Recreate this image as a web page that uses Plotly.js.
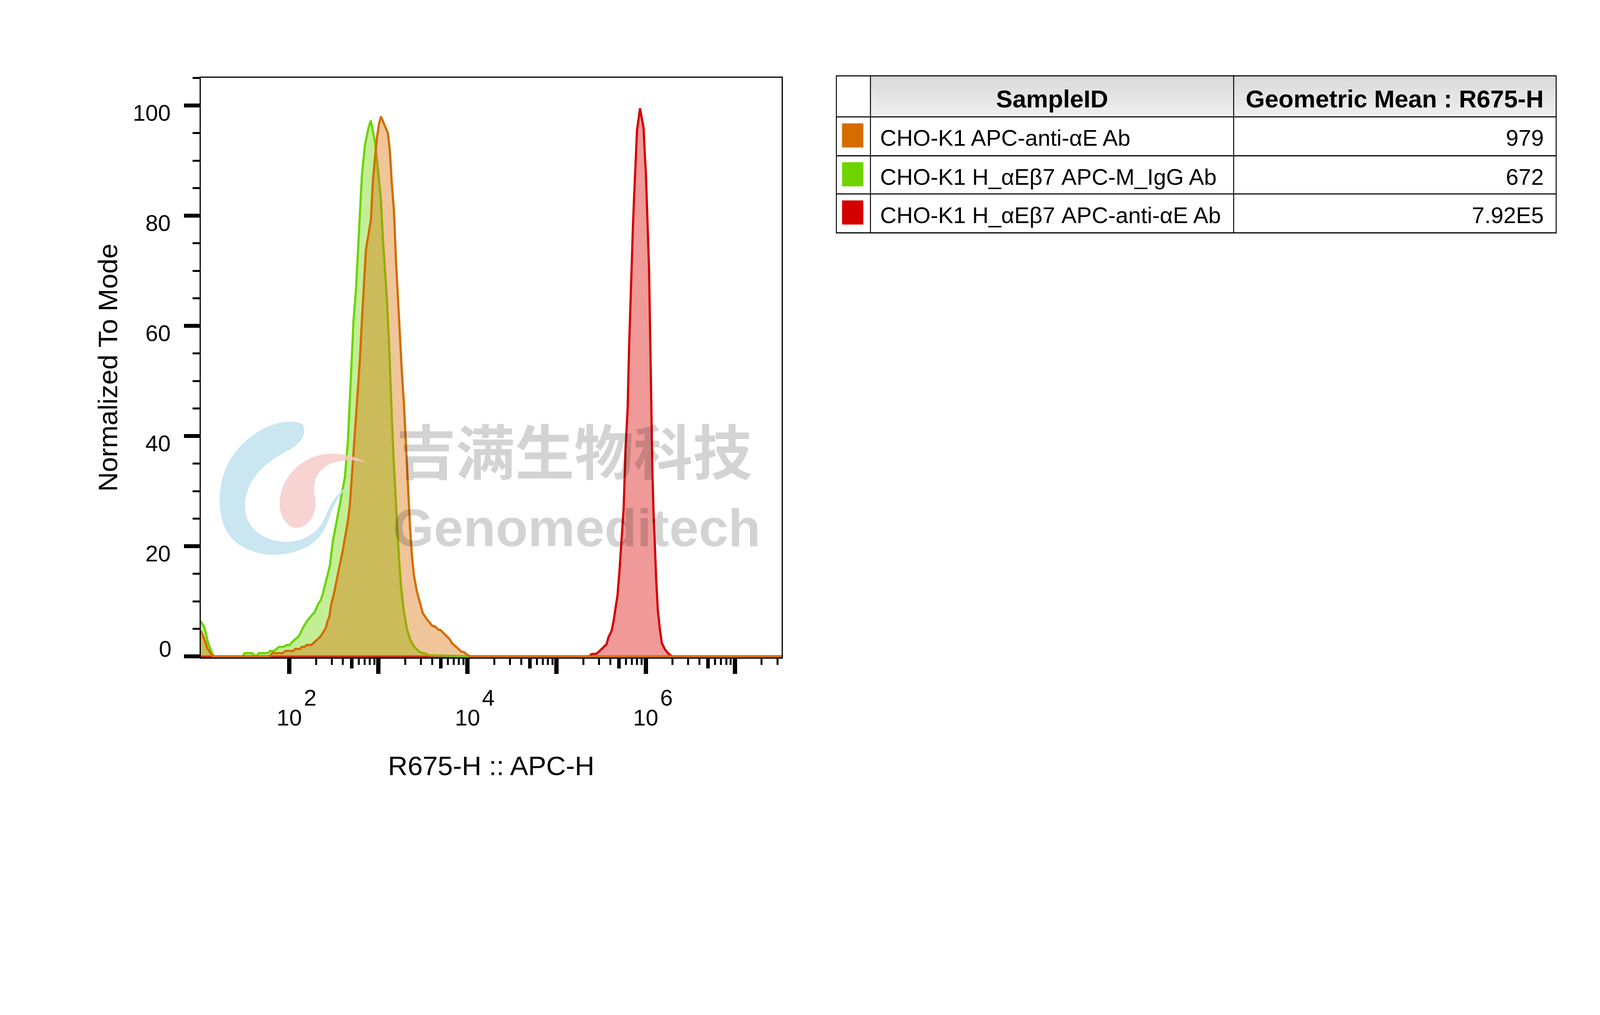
<!DOCTYPE html>
<html>
<head>
<meta charset="utf-8">
<script src="https://cdn.plot.ly/plotly-3.0.1.min.js"></script>
<style>
html,body{margin:0;padding:0;background:#ffffff;overflow:hidden;}
#chart{position:absolute;left:0;top:0;}
</style>
</head>
<body>
<div id="chart"></div>
<script>
// ---------------- DATA (x in log10 of R675-H channel value, y = % of mode) ----------------
const greenLogX = [0.99,1.015,1.048,1.090,1.133,1.155,1.476,1.498,1.584,1.616,1.637,1.659,1.755,1.787,1.830,1.884,1.938,1.970,2.002,2.034,2.109,2.163,2.205,2.249,2.287,2.321,2.355,2.377,2.411,2.433,2.456,2.489,2.523,2.556,2.590,2.624,2.658,2.678,2.700,2.721,2.748,2.766,2.792,2.815,2.849,2.889,2.915,2.938,2.961,2.984,3.006,3.028,3.051,3.073,3.096,3.118,3.141,3.163,3.186,3.208,3.231,3.253,3.287,3.320,3.354,3.399,3.418,3.449,3.482,3.525,3.568,4.000,4.020];
const greenY = [6.5,6.2,5.25,2.4,0.65,0,0,0.6,0.6,0.15,0.15,0.6,0.6,1.0,1.0,1.75,1.75,2.08,2.08,2.63,3.72,5.48,6.57,7.34,8.1,9.4,10.3,11.4,13.6,15.0,16.5,20.9,23.8,26.7,29.3,32.5,39.1,46.5,53.5,61.0,66.5,72.0,79.3,87.3,92.8,96.0,97.3,95.5,93.5,90.2,86.6,82.9,75.6,70.1,64.7,57.4,47.6,38.4,31.1,23.8,17.9,12.9,8.0,5.0,3.2,1.8,1.5,1.0,0.65,0.55,0.2,0.1,0];

const orangeLogX = [0.98,1.015,1.048,1.080,1.112,1.144,1.777,1.809,1.927,1.959,2.045,2.066,2.120,2.141,2.174,2.195,2.249,2.299,2.343,2.356,2.388,2.409,2.431,2.452,2.467,2.501,2.534,2.568,2.602,2.630,2.658,2.680,2.703,2.730,2.759,2.775,2.792,2.815,2.838,2.860,2.894,2.916,2.939,2.961,2.984,3.006,3.028,3.107,3.129,3.152,3.174,3.197,3.219,3.242,3.262,3.287,3.309,3.332,3.354,3.376,3.399,3.433,3.466,3.500,3.546,3.589,3.610,3.632,3.675,3.696,3.803,3.825,3.932,3.964,3.975,4.018,4.050,7.600];
const orangeY = [5.0,4.37,3.06,1.53,0.65,0,0,0.6,0.6,1.0,1.0,1.35,1.35,1.75,1.75,2.08,2.08,2.8,3.5,3.72,4.6,5.15,6.46,7.34,9.2,11.4,14.0,16.5,19.4,22.0,24.6,27.5,33.0,38.4,45.7,50.0,53.7,61.0,68.3,73.8,77.1,79.3,86.6,90.2,94.2,96.6,98.0,95.0,91.7,85.5,81.1,72.0,64.7,57.4,52.0,45.7,38.4,31.1,23.8,18.3,14.7,11.7,9.6,7.8,6.7,5.8,5.48,5.48,4.82,4.82,3.07,2.41,0.88,0.77,0.55,0.1,0,0];

const redLogX = [0.98,5.368,5.390,5.447,5.470,5.526,5.560,5.582,5.616,5.639,5.661,5.684,5.707,5.729,5.752,5.774,5.797,5.813,5.838,5.848,5.857,5.868,5.879,5.888,5.902,5.936,5.976,5.990,6.003,6.014,6.024,6.037,6.052,6.061,6.074,6.086,6.102,6.117,6.135,6.158,6.181,6.215,6.248,6.294,7.600];
const redY = [0,0,0.4,0.5,0.8,1.7,2.2,3.5,4.6,6.4,8.6,11.2,15.9,21.4,26.9,37.8,45.1,56.1,70.4,74.0,78.4,82.8,87.2,91.6,95.5,99.5,95.9,91.1,87.2,81.7,76.2,70.4,56.1,45.1,34.2,26.9,19.6,14.1,8.6,5.0,2.4,1.3,0.6,0,0];

const sampleIds = ['CHO-K1 APC-anti-\u03b1E Ab', 'CHO-K1 H_\u03b1E\u03b27 APC-M_IgG Ab', 'CHO-K1 H_\u03b1E\u03b27 APC-anti-\u03b1E Ab'];
const geoMeans = ['979', '672', '7.92E5'];
const tableHeader = ['SampleID', 'Geometric Mean : R675-H'];

const xTickExp = [2, 3, 4, 5, 6, 7];
const xLabelExp = [2, 4, 6];
const xMinorMult = [2, 3, 4, 6, 7, 8, 9];
const xMidMult = [5];
const yTickVals = [0, 20, 40, 60, 80, 100];
const yTickText = ['0', '20', '40', '60', '80', '100'];

const xTitle = 'R675-H :: APC-H';
const yTitle = 'Normalized To Mode';

// ---------------- STYLE ----------------
const C_OR = '#d46c00', F_OR = 'rgba(214,110,0,0.40)';
const C_GR = '#6dd400', F_GR = 'rgba(109,214,0,0.41)';
const C_RD = '#d40000', F_RD = 'rgba(214,0,0,0.40)';
const swatchColors = [C_OR, C_GR, C_RD];
const FONT = 'Liberation Sans, Arial, Helvetica, sans-serif';

// design grid is 5074 x 2598; everything is scaled to the real viewport
const RW = 5074, RH = 2598;
const vw = window.innerWidth || RW, vh = window.innerHeight || RH;
const s = Math.min(vw / RW, vh / RH);
const S = v => v * s;
const SI = v => Math.round(v * s);   // integer-valued attributes
const W = Math.round(RW * s), H = Math.round(RH * s);
document.getElementById('chart').style.width = W + 'px';
document.getElementById('chart').style.height = H + 'px';

const PL = 637, PR = 2478.5, PT = 246, PB = 2085;
const PX = X => (X - PL) / (PR - PL);
const PY = Y => (PB - Y) / (PB - PT);

const XR = [1.007, 7.525];
const YR = [-0.2, 105.05];

const pow10 = v => Math.pow(10, v);
const xMajorVals = xTickExp.map(pow10);
const xMajorText = xTickExp.map(e => xLabelExp.includes(e) ? '10' : '');
const xMinorVals = [], xMidVals = [];
xTickExp.forEach(e => {
  xMinorMult.forEach(m => xMinorVals.push(m * pow10(e)));
  xMidMult.forEach(m => xMidVals.push(m * pow10(e)));
});

function hist(logx, y, color, fill, xa, ya) {
  return {
    type: 'scatter', mode: 'lines',
    x: logx.map(pow10), y: y,
    line: {color: color, width: S(7), shape: 'linear'},
    fill: 'tozeroy', fillcolor: fill,
    xaxis: xa, yaxis: ya, hoverinfo: 'skip', showlegend: false
  };
}
const traces = [
  hist(redLogX, redY, C_RD, F_RD, 'x', 'y'),
  hist(greenLogX, greenY, C_GR, F_GR, 'x', 'y'),
  hist(orangeLogX, orangeY, C_OR, F_OR, 'x2', 'y2')
];

// ---------------- TABLE (shapes + annotations) ----------------
const tCols = [2652, 2760, 3911.5, 4934];
const tRows = [240, 370, 493.5, 614.5, 738];
const shapes = [];
const annotations = [];

const nb = 10;
for (let i = 0; i < nb; i++) {
  const g = Math.round(218 + (238 - 218) * i / (nb - 1));
  const y0 = tRows[0] + (tRows[1] - tRows[0]) * i / nb;
  const y1 = tRows[0] + (tRows[1] - tRows[0]) * (i + 1) / nb + 0.5;
  shapes.push({type: 'rect', xref: 'paper', yref: 'paper', x0: PX(tCols[1]), x1: PX(tCols[3]), y0: PY(y0), y1: PY(y1),
    fillcolor: `rgb(${g},${g},${g})`, line: {width: 0}, layer: 'below'});
}
swatchColors.forEach((c, i) => {
  const top = tRows[i + 1];
  shapes.push({type: 'rect', xref: 'paper', yref: 'paper', x0: PX(2670), x1: PX(2737.5), y0: PY(top + 20.6), y1: PY(top + 97.1),
    fillcolor: c, line: {width: 0}});
});
tRows.forEach(r => shapes.push({type: 'line', xref: 'paper', yref: 'paper', x0: PX(tCols[0] - 1.5), x1: PX(tCols[3] + 1.5), y0: PY(r), y1: PY(r), line: {color: '#000', width: S(3.5)}}));
tCols.forEach(c => shapes.push({type: 'line', xref: 'paper', yref: 'paper', x0: PX(c), x1: PX(c), y0: PY(tRows[0]), y1: PY(tRows[4]), line: {color: '#000', width: S(3)}}));

annotations.push({xref: 'paper', yref: 'paper', x: PX((tCols[1] + tCols[2]) / 2), y: PY(312.9), text: tableHeader[0], showarrow: false,
  xanchor: 'center', yanchor: 'middle', font: {family: FONT, size: S(78), color: '#000', weight: 700}});
annotations.push({xref: 'paper', yref: 'paper', x: PX((tCols[2] + tCols[3]) / 2), y: PY(312.9), text: tableHeader[1], showarrow: false,
  xanchor: 'center', yanchor: 'middle', font: {family: FONT, size: S(78), color: '#000', weight: 700}});
sampleIds.forEach((t, i) => {
  const top = tRows[i + 1];
  annotations.push({xref: 'paper', yref: 'paper', x: PX(2788), y: PY(top + 66.5), text: t, showarrow: false,
    xanchor: 'left', yanchor: 'middle', font: {family: FONT, size: S(72), color: '#000'}});
  annotations.push({xref: 'paper', yref: 'paper', x: PX(4896.5), y: PY(top + 66.5), text: geoMeans[i], showarrow: false,
    xanchor: 'right', yanchor: 'middle', font: {family: FONT, size: S(72), color: '#000'}});
});

// x tick exponents (superscripts of the "10" tick labels)
xLabelExp.forEach(e => annotations.push({xref: 'x', yref: 'paper', x: e, y: PY(2212), xshift: S(66), text: String(e), showarrow: false,
  xanchor: 'center', yanchor: 'middle', font: {family: FONT, size: S(72), color: '#000'}}));

// ---------------- WATERMARK ----------------
function pxPath(segs) {
  return segs.map(q => q[0] + ' ' + q.slice(1).map((v, i) => (i % 2 === 0 ? PX(v) : PY(v)).toFixed(5)).join(' ')).join(' ') + ' Z';
}
shapes.push({type: 'path', xref: 'paper', yref: 'paper', layer: 'above', opacity: 0.85,
  fillcolor: 'rgb(192,226,238)', line: {width: 0},
  path: pxPath([
    ['M', 960, 1345],
    ['C', 900, 1318, 800, 1360, 742, 1440],
    ['C', 690, 1510, 682, 1620, 722, 1690],
    ['C', 772, 1762, 880, 1776, 960, 1740],
    ['C', 1010, 1720, 1030, 1682, 1045, 1640],
    ['C', 1060, 1600, 1080, 1560, 1112, 1538],
    ['C', 1072, 1556, 1050, 1592, 1030, 1642],
    ['C', 1010, 1690, 962, 1720, 900, 1718],
    ['C', 820, 1712, 770, 1660, 778, 1590],
    ['C', 786, 1510, 850, 1462, 910, 1430],
    ['C', 950, 1410, 976, 1380, 960, 1345]
  ])});
shapes.push({type: 'path', xref: 'paper', yref: 'paper', layer: 'above', opacity: 0.8,
  fillcolor: 'rgb(245,200,198)', line: {width: 0},
  path: pxPath([
    ['M', 1165, 1468],
    ['C', 1120, 1440, 1040, 1425, 980, 1455],
    ['C', 920, 1485, 880, 1550, 888, 1610],
    ['C', 895, 1660, 930, 1686, 962, 1668],
    ['C', 996, 1650, 1006, 1610, 998, 1570],
    ['C', 990, 1520, 1010, 1482, 1060, 1466],
    ['C', 1100, 1455, 1140, 1460, 1165, 1468]
  ])});
annotations.push({xref: 'paper', yref: 'paper', x: PX(1821), y: PY(1423), text: '吉满生物科技', showarrow: false,
  xanchor: 'center', yanchor: 'middle', font: {family: 'Noto Sans CJK SC', size: S(188), color: 'rgba(40,36,34,0.2)', weight: 700}});
annotations.push({xref: 'paper', yref: 'paper', x: PX(1828), y: PY(1673), text: 'Genomeditech', showarrow: false,
  xanchor: 'center', yanchor: 'middle', font: {family: FONT, size: S(168), color: 'rgba(40,36,34,0.2)', weight: 700}});

// ---------------- LAYOUT ----------------
const layout = {
  width: W, height: H,
  margin: {l: S(PL), r: S(RW - PR), t: S(PT), b: S(RH - PB), pad: 0},
  paper_bgcolor: '#ffffff', plot_bgcolor: '#ffffff',
  showlegend: false,
  font: {family: FONT, color: '#000000', size: S(72)},
  xaxis: {
    type: 'log', range: XR, autorange: false,
    tickmode: 'array', tickvals: xMajorVals, ticktext: xMajorText,
    ticks: 'outside', ticklen: S(48), tickwidth: S(14), tickcolor: '#000',
    tickfont: {family: FONT, size: S(72), color: '#000'}, ticklabelstandoff: SI(77),
    minor: {tickmode: 'array', tickvals: xMinorVals, ticks: 'outside', ticklen: S(20), tickwidth: S(6), tickcolor: '#000', showgrid: false},
    showline: true, linecolor: '#000', linewidth: S(4), mirror: true,
    showgrid: false, zeroline: false,
    title: {text: xTitle, font: {family: FONT, size: S(86), color: '#000'}, standoff: S(85)}
  },
  xaxis2: {
    type: 'log', range: XR, autorange: false, overlaying: 'x', anchor: 'y2', side: 'bottom',
    tickmode: 'array', tickvals: xMidVals, ticktext: xMidVals.map(() => ''),
    ticks: 'outside', ticklen: S(34), tickwidth: S(11), tickcolor: '#000',
    showline: false, showgrid: false, zeroline: false
  },
  yaxis: {
    range: YR, autorange: false,
    tickmode: 'array', tickvals: yTickVals, ticktext: yTickText.map((t, i) => i === 0 ? '' : t),
    ticks: 'outside', ticklen: S(50), tickwidth: S(13), tickcolor: '#000',
    tickfont: {family: FONT, size: S(72), color: '#000'}, ticklabelstandoff: SI(27), ticklabelshift: SI(22),
    minor: {tickmode: 'linear', tick0: 0, dtick: 5, ticks: 'outside', ticklen: S(22), tickwidth: S(6), tickcolor: '#000', showgrid: false},
    showline: true, linecolor: '#000', linewidth: S(4), mirror: true,
    showgrid: false, zeroline: false,
    title: {text: yTitle, font: {family: FONT, size: S(86), color: '#000'}, standoff: S(21)}
  },
  yaxis2: {
    range: YR, autorange: false, overlaying: 'y', anchor: 'x2', side: 'left',
    tickmode: 'array', tickvals: [yTickVals[0]], ticktext: [yTickText[0]],
    ticks: 'outside', ticklen: S(50), tickwidth: 1, tickcolor: 'rgba(0,0,0,0)',
    tickfont: {family: FONT, size: S(72), color: '#000'}, ticklabelstandoff: SI(27), ticklabelshift: SI(-25),
    showline: false, showgrid: false, zeroline: false
  },
  shapes: shapes,
  annotations: annotations
};

Plotly.newPlot('chart', traces, layout, {displayModeBar: false, responsive: false});
</script>
</body>
</html>
